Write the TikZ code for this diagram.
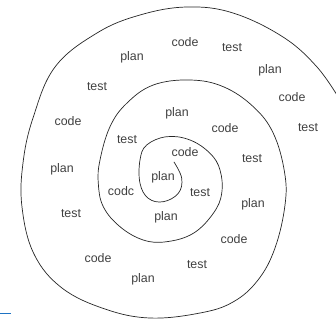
\documentclass[tikz,border=0pt]{standalone}
\usepackage{fontspec}
\setmainfont{Liberation Sans}
\begin{document}
\begin{tikzpicture}[x=1pt,y=-1pt,
  word/.style={text=black!75, font=\fontsize{12.4}{14}\selectfont, inner sep=0pt, anchor=center},
  spiralline/.style={draw=black!85, line width=0.7pt, line cap=round}]
\useasboundingbox (0,0) rectangle (336,324);

% the spiral, drawn from its centre outwards
\draw[spiralline] plot[smooth, tension=0.65] coordinates {
  (174,162) (181.7,178.3) (178.3,193.3) (163.3,201.7) (148.3,198.3) (140,183.3)
  (140,160) (146.7,145) (166.7,136.7) (190,140) (210,153.3) (220,170)
  (221.7,193.3) (213.3,213.3) (193.3,233.3) (166.7,241.7) (143.3,240) (120,226.7)
  (103.3,206.7) (98.3,183.3) (100,160) (110,126.7) (126.7,103.3) (153.3,85)
  (190,80) (223.3,86.7) (253.3,106.7) (273.3,133.3) (284.5,172) (285,205)
  (275,248) (258,280) (233,302) (200,313) (150,318) (105,309) (62,288)
  (34,254) (22,207) (23,163) (33,118) (55,67) (97,33) (140,15) (187,7)
  (233,13) (283,37) (317,67) (340,100)};

% inner turn
\node[word] (p1) at (163,177) {plan};
\node[word] (c1) at (185,152) {code};
\node[word] (t1) at (200,193) {test};
\node[word] (c2) at (121,191) {codc};
\node[word] (p2) at (166,217) {plan};
% middle turn
\node[word] (t2) at (127,140) {test};
\node[word] (p3) at (177,113) {plan};
\node[word] (c3) at (225,128) {code};
\node[word] (t3) at (252,159) {test};
\node[word] (p4) at (253,204) {plan};
\node[word] (c4) at (234,239) {code};
% outer turn
\node[word] (t4) at (197,265) {test};
\node[word] (p5) at (143,279) {plan};
\node[word] (c5) at (98,258) {code};
\node[word] (t5) at (71,214) {test};
\node[word] (p6) at (62,169) {plan};
\node[word] (c6) at (68,121) {code};
\node[word] (t6) at (97,87) {test};
\node[word] (p7) at (132,57) {plan};
\node[word] (c7) at (185,42) {code};
\node[word] (t7) at (232,48) {test};
\node[word] (p8) at (270,70) {plan};
\node[word] (c8) at (292,97) {code};
\node[word] (t8) at (308,128) {test};

% short blue rule at the lower left edge
\draw[draw={rgb,255:red,30;green,115;blue,195}, line width=1.6pt] (0,313.5) -- (11,313.5);
\end{tikzpicture}
\end{document}
